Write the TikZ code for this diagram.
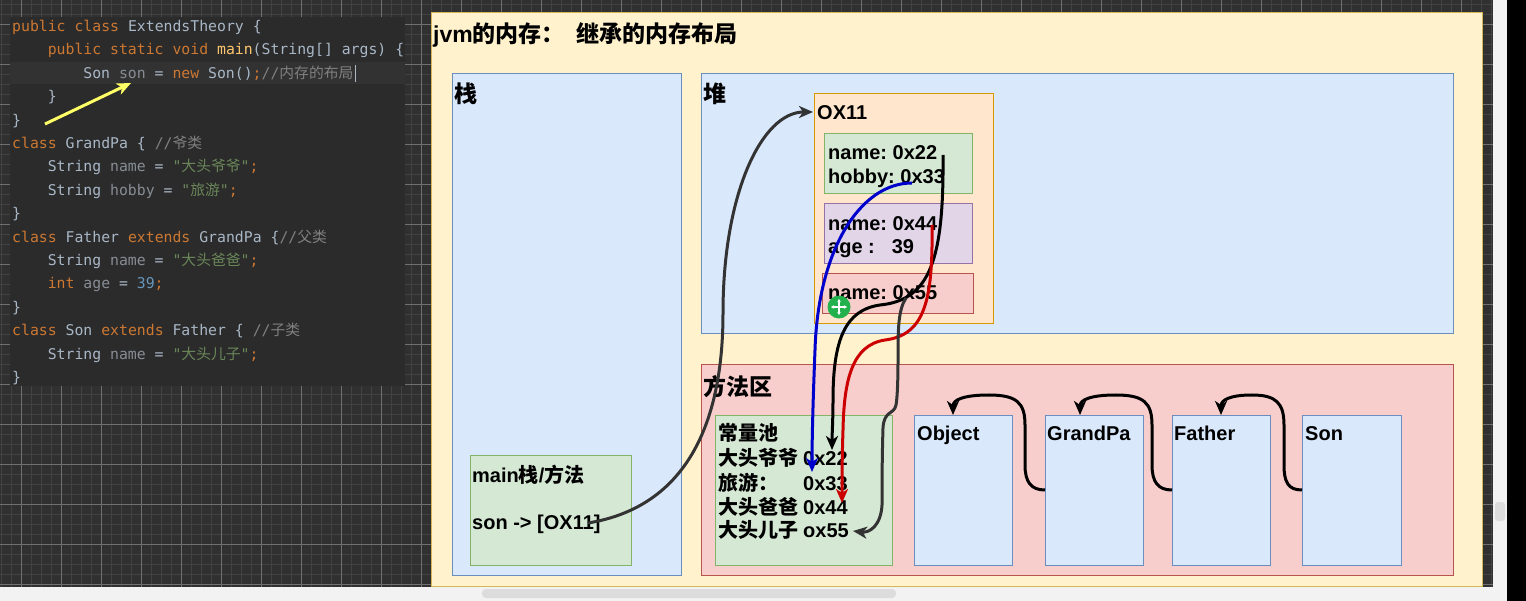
\documentclass[tikz,border=0pt]{standalone}
\usepackage{fontspec}
\setmainfont{Liberation Sans}
\newfontfamily\cjk{Noto Sans CJK SC}
\newfontfamily\codefont{DejaVu Sans Mono}[Ligatures=TeXOff]
\newfontfamily\codecjk{Noto Sans CJK SC}
\usetikzlibrary{arrows.meta}
\frenchspacing
\definecolor{gridbg}{HTML}{303030}
\definecolor{gridmin}{HTML}{424242}
\definecolor{gridmaj}{HTML}{707070}
\definecolor{codebg}{HTML}{2B2B2B}
\definecolor{codeline}{HTML}{323232}
\definecolor{cplc}{HTML}{A9B7C6}
\definecolor{ckwc}{HTML}{CC7832}
\definecolor{cvarc}{HTML}{878D94}
\definecolor{cstrc}{HTML}{6A8759}
\definecolor{ccomc}{HTML}{808080}
\definecolor{cnumc}{HTML}{6897BB}
\definecolor{cfnc}{HTML}{FFC66D}
\definecolor{yelF}{HTML}{FFF2CC}\definecolor{yelD}{HTML}{D6B656}
\definecolor{bluF}{HTML}{DAE8FC}\definecolor{bluD}{HTML}{6C8EBF}
\definecolor{redF}{HTML}{F8CECC}\definecolor{redD}{HTML}{B85450}
\definecolor{grnF}{HTML}{D5E8D4}\definecolor{grnD}{HTML}{82B366}
\definecolor{orgF}{HTML}{FFE6CC}\definecolor{orgD}{HTML}{D79B00}
\definecolor{purF}{HTML}{E1D5E7}\definecolor{purD}{HTML}{9673A6}
\definecolor{darkline}{HTML}{333333}
\definecolor{blueline}{HTML}{0000CC}
\definecolor{redline}{HTML}{CC0000}
\definecolor{yelline}{HTML}{FFFF66}
\definecolor{cursorgreen}{HTML}{22B14C}
\definecolor{scrollbg}{HTML}{F2F2F2}
\definecolor{scrollthumb}{HTML}{DCDCDC}
\newcommand\ckw[1]{\textcolor{ckwc}{#1}}
\newcommand\cvar[1]{\textcolor{cvarc}{#1}}
\newcommand\cstr[1]{\textcolor{cstrc}{#1}}
\newcommand\ccom[1]{\textcolor{ccomc}{#1}}
\newcommand\cnum[1]{\textcolor{cnumc}{#1}}
\newcommand\cfn[1]{\textcolor{cfnc}{#1}}
\begin{document}
\begin{tikzpicture}[x=1pt,y=-1pt,
  box/.style={draw, line width=1pt, anchor=north west, inner sep=0pt, outer sep=0pt},
  lbl/.style={anchor=base west, inner sep=0pt, font=\bfseries\fontsize{20}{24}\selectfont},
  big/.style={anchor=base west, inner sep=0pt, font=\bfseries\fontsize{23}{27}\selectfont},
  code/.style={anchor=base west, inner sep=0pt, font=\codefont\fontsize{14.8}{17}\selectfont, text=cplc},
  conn/.style={line width=3pt, -{Stealth[length=14pt,width=12pt,inset=4pt]}},
  inh/.style={line width=3pt, draw=black, -{Stealth[length=14pt,width=12pt,inset=4pt]}},
]
\useasboundingbox (0,0) rectangle (1526,601);
% ---- editor background grid
\fill[gridbg] (0,0) rectangle (1493,587);
\foreach \x in {1,11,...,1491} \draw[gridmin, line width=0.8pt] (\x,0) -- (\x,587);
\foreach \y in {4,14,...,584} \draw[gridmin, line width=0.8pt] (0,\y) -- (1493,\y);
\foreach \x in {21,61,...,1491} \draw[gridmaj, line width=0.8pt] (\x,0) -- (\x,587);
\foreach \y in {24,64,...,584} \draw[gridmaj, line width=0.8pt] (0,\y) -- (1493,\y);
% scroll bars / window edge
\fill[scrollbg] (0,587) rectangle (1507,601);
\fill[scrollthumb, rounded corners=4pt] (482,589) rectangle (896,598);
\fill[scrollbg] (1493,0) rectangle (1507,601);
\fill[scrollthumb, rounded corners=3pt] (1495,502) rectangle (1505,521);
\fill[black] (1507,0) rectangle (1526,601);
% ---- code panel
\node[box, draw=none, fill=codebg, minimum width=395pt, minimum height=369pt] (codepanel) at (10,17) {};
\fill[codeline] (10,62) rectangle (405,84);
\node[code] (L1) at (12,31.5) {\ckw{public class }ExtendsTheory \{};
\node[code] (L2) at (47.6,54.9) {\ckw{public static void }\cfn{main}(String[] args) \{};
\node[code] (L3) at (83.2,78.3) {Son \cvar{son} = \ckw{new }Son()\ckw{;}\ccom{//{\codecjk 内存的布局}}};
\draw[cplc, line width=1pt] (355,65) -- (355,82);
\node[code] (L4) at (47.6,101.7) {\}};
\node[code] (L5) at (12,125.1) {\}};
\node[code] (L6) at (12,148.5) {\ckw{class }GrandPa \{ \ccom{//{\codecjk 爷类}}};
\node[code] (L7) at (47.6,171.9) {String \cvar{name} = \cstr{"{\codecjk 大头爷爷}"}\ckw{;}};
\node[code] (L8) at (47.6,195.3) {String \cvar{hobby} = \cstr{"{\codecjk 旅游}"}\ckw{;}};
\node[code] (L9) at (12,218.7) {\}};
\node[code] (L10) at (12,242.1) {\ckw{class }Father \ckw{extends }GrandPa \{\ccom{//{\codecjk 父类}}};
\node[code] (L11) at (47.6,265.5) {String \cvar{name} = \cstr{"{\codecjk 大头爸爸}"}\ckw{;}};
\node[code] (L12) at (47.6,288.9) {\ckw{int }\cvar{age} = \cnum{39}\ckw{;}};
\node[code] (L13) at (12,312.3) {\}};
\node[code] (L14) at (12,335.7) {\ckw{class }Son \ckw{extends }Father \{ \ccom{//{\codecjk 子类}}};
\node[code] (L15) at (47.6,359.1) {String \cvar{name} = \cstr{"{\codecjk 大头儿子}"}\ckw{;}};
\node[code] (L16) at (12,382.5) {\}};
\coordinate (yaS) at (45,124);
\coordinate (yaE) at (131,83);
\draw[conn, draw=yelline] (yaS) -- (yaE);
% ---- diagram boxes
\node[box, draw=yelD, fill=yelF, minimum width=1051pt, minimum height=573pt] (panel) at (431,13) {};
\node[box, draw=bluD, fill=bluF, minimum width=229pt, minimum height=501pt] (stack) at (452,74) {};
\node[box, draw=bluD, fill=bluF, minimum width=752pt, minimum height=260pt] (heap) at (701,74) {};
\node[box, draw=redD, fill=redF, minimum width=752pt, minimum height=210pt] (method) at (701,365) {};
\node[box, draw=orgD, fill=orgF, minimum width=179pt, minimum height=230pt] (obj) at (814,94) {};
\node[box, draw=grnD, fill=grnF, minimum width=148pt, minimum height=60pt] (fa) at (824,134) {};
\node[box, draw=purD, fill=purF, minimum width=148pt, minimum height=60pt] (fb) at (824,204) {};
\node[box, draw=redD, fill=redF, minimum width=151pt, minimum height=40pt] (fc) at (822,274) {};
\node[box, draw=grnD, fill=grnF, minimum width=161pt, minimum height=110pt] (frame) at (470,455) {};
\node[box, draw=grnD, fill=grnF, minimum width=177pt, minimum height=150pt] (pool) at (715,415) {};
\node[box, draw=bluD, fill=bluF, minimum width=98pt, minimum height=150pt] (cObject) at (914,415) {};
\node[box, draw=bluD, fill=bluF, minimum width=98pt, minimum height=150pt] (cGrandPa) at (1045,415) {};
\node[box, draw=bluD, fill=bluF, minimum width=98pt, minimum height=150pt] (cFather) at (1172,415) {};
\node[box, draw=bluD, fill=bluF, minimum width=99pt, minimum height=150pt] (cSon) at (1302,415) {};
% ---- texts
\node[big] (tTitle) at (433,43) {jvm{\cjk 的内存：}\hspace{12pt}{\cjk 继承的内存布局}};
\node[big] (tStack) at (454,102.5) {{\cjk 栈}};
\node[big] (tHeap) at (703,102.5) {{\cjk 堆}};
\node[big] (tMethod) at (703,395.5) {{\cjk 方法区}};
\node[lbl] (tObj) at (817,120) {OX11};
\node[lbl] (tA1) at (828,160) {name: 0x22};
\node[lbl] (tA2) at (828,184) {hobby: 0x33};
\node[lbl] (tB1) at (828,231) {name: 0x44};
\node[lbl] (tB2) at (828,254) {age :\hspace{17pt}39};
\node[lbl] (tC1) at (828,300) {name: 0x55};
\node[lbl] (tFrame) at (472,482) {main{\cjk 栈}/{\cjk 方法}};
\node[lbl] (tSon) at (472,529) {son -> [OX11]};
\node[lbl] (p0) at (718,440.5) {{\cjk 常量池}};
\node[lbl] (p1) at (718,465) {\makebox[85pt][l]{\cjk 大头爷爷}0x22};
\node[lbl] (p2) at (718,490) {\makebox[85pt][l]{\cjk 旅游：}0x33};
\node[lbl] (p3) at (718,514) {\makebox[85pt][l]{\cjk 大头爸爸}0x44};
\node[lbl] (p4) at (718,537) {\makebox[85pt][l]{\cjk 大头儿子}ox55};
\node[lbl] (tcObject) at (917,440) {Object};
\node[lbl] (tcGrandPa) at (1047,440) {GrandPa};
\node[lbl] (tcFather) at (1174,440) {Father};
\node[lbl] (tcSon) at (1305,440) {Son};
% ---- connectors
\coordinate (sonStart) at (588,523);
\coordinate (objIn) at (813,112);
\draw[conn, draw=darkline] (sonStart) .. controls (680,508) and (723,433) .. (723,313) .. controls (723,193) and (762,112) .. (objIn);
\coordinate (hobbyOut) at (912,183);
\coordinate (pool33) at (812,472);
\draw[conn, draw=blueline] (hobbyOut) .. controls (860,183) and (818,250) .. (815,350) .. controls (813,400) and (812,440) .. (pool33);
\coordinate (gpOut) at (943,155);
\coordinate (pool22) at (832,450);
\draw[conn, draw=black] (gpOut) .. controls (944,260) and (930,300) .. (880,305) .. controls (845,310) and (833,340) .. (833,400) .. controls (833,420) and (832,435) .. (pool22);
\coordinate (faOut) at (932,225);
\coordinate (pool44) at (842,503);
\draw[conn, draw=redline] (faOut) .. controls (933,300) and (925,335) .. (885,340) .. controls (852,345) and (844,380) .. (843,430) .. controls (842,460) and (842,480) .. (pool44);
\coordinate (sonOut) at (906,298);
\coordinate (pool55) at (853,531);
\draw[conn, draw=darkline] (sonOut) .. controls (898,310) and (898,330) .. (898,360) .. controls (898,385) and (897,400) .. (896,405) .. controls (894,415) and (884,410) .. (883,428) .. controls (882,460) and (882,490) .. (882,505) .. controls (881,525) and (870,533) .. (pool55);
% inheritance
\coordinate (sonL) at (1302,490);
\coordinate (fatherT) at (1221,415);
\draw[inh] (sonL) .. controls (1288,490) and (1284,482) .. (1284,465) -- (1284,425) .. controls (1284,403) and (1276,395) .. (1252,395) .. controls (1230,395) and (1221,400) .. (fatherT);
\coordinate (fatherL) at (1172,490);
\coordinate (gpT) at (1080,415);
\draw[inh] (fatherL) .. controls (1158,490) and (1152,482) .. (1152,465) -- (1152,425) .. controls (1152,403) and (1144,395) .. (1116,395) .. controls (1090,395) and (1080,400) .. (gpT);
\coordinate (gpL) at (1045,490);
\coordinate (objectT) at (953,415);
\draw[inh] (gpL) .. controls (1031,490) and (1025,482) .. (1025,465) -- (1025,425) .. controls (1025,403) and (1017,395) .. (989,395) .. controls (963,395) and (953,400) .. (objectT);
% ---- move cursor
\node[circle, fill=cursorgreen, minimum size=23pt, inner sep=0pt] (cursor) at (839,307) {};
\draw[white, line width=1.2pt, {Stealth[length=3pt,width=3.5pt]}-{Stealth[length=3pt,width=3.5pt]}] (cursor.center) ++(-8,0) -- ++(16,0);
\draw[white, line width=1.2pt, {Stealth[length=3pt,width=3.5pt]}-{Stealth[length=3pt,width=3.5pt]}] (cursor.center) ++(0,-8) -- ++(0,16);
\end{tikzpicture}
\end{document}
